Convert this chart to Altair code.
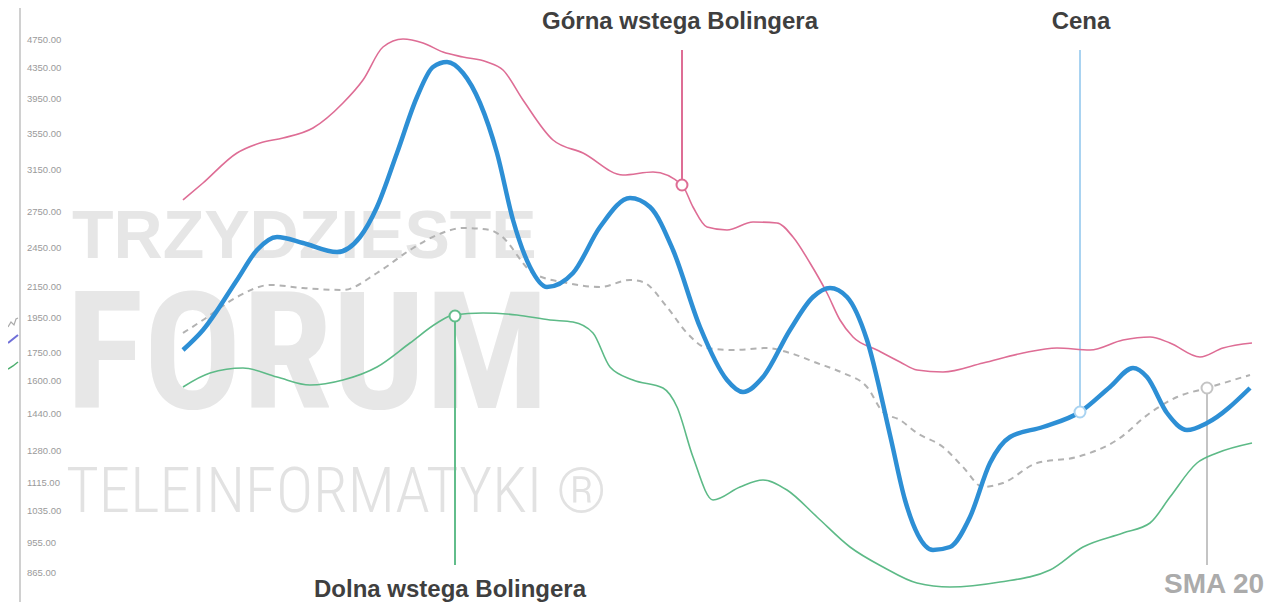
import altair as alt
import pandas as pd

# ---------------- data (t = time position, v = price level, arbitrary units) -------------
upper_t = [183, 203, 237, 260, 283, 313, 343, 363, 383, 403, 423, 443, 463, 487, 503, 523, 553, 583, 623, 653,
           682, 693, 707, 727, 753, 777, 793, 810, 827, 840, 853, 877, 900, 917, 943, 983, 1023, 1057, 1090,
           1123, 1150, 1170, 1200, 1223, 1252]
upper_v = [402, 419, 449, 459, 464, 474, 499, 522, 555, 563, 559, 550, 545, 540, 532, 502, 462, 449, 427, 430,
           417, 395, 375, 372, 380, 379, 365, 339, 309, 282, 265, 252, 240, 232, 230, 239, 249, 254, 252,
           262, 265, 259, 245, 254, 259]

price_t = [183, 203, 237, 257, 277, 303, 337, 360, 377, 397, 417, 433, 447, 463, 480, 497, 513, 530, 547, 573,
           600, 630, 650, 673, 700, 727, 743, 763, 790, 813, 830, 847, 867, 890, 905, 918, 933, 950, 970, 990,
           1010, 1043, 1080, 1110, 1133, 1147, 1167, 1187, 1207, 1250]
price_v = [252, 272, 322, 352, 365, 359, 350, 365, 395, 449, 505, 535, 540, 529, 499, 449, 382, 335, 315, 329,
           375, 404, 395, 352, 275, 222, 210, 225, 272, 305, 314, 305, 262, 167, 102, 67, 52, 55, 85, 139,
           165, 175, 190, 215, 234, 225, 189, 172, 179, 214]

sma_t = [183, 203, 237, 270, 303, 343, 377, 410, 437, 463, 490, 500, 533, 567, 600, 630, 643, 667, 687, 707,
         733, 767, 790, 817, 843, 867, 883, 900, 917, 943, 963, 983, 1003, 1037, 1077, 1117, 1150, 1177, 1207, 1250]
sma_v = [269, 282, 305, 317, 314, 312, 329, 352, 367, 374, 372, 367, 329, 319, 315, 322, 320, 295, 269, 254,
         252, 254, 249, 239, 229, 215, 190, 182, 169, 155, 135, 115, 119, 139, 145, 162, 189, 205, 214, 227]

lower_t = [183, 210, 243, 277, 310, 343, 377, 410, 437, 453, 483, 517, 550, 573, 593, 610, 633, 663, 677, 693,
           713, 740, 763, 787, 817, 850, 883, 917, 950, 1000, 1050, 1083, 1123, 1150, 1170, 1197, 1217, 1252]
lower_v = [215, 229, 234, 225, 217, 222, 235, 259, 279, 287, 289, 287, 282, 280, 269, 235, 222, 214, 195, 145,
           102, 115, 122, 112, 85, 55, 35, 19, 15, 20, 32, 55, 69, 79, 105, 139, 149, 159]

# fragments of a neighbouring chart visible at the left edge
edge_purple_t = [8, 13, 18]
edge_purple_v = [259, 263, 267]
edge_green_t = [8, 13, 18]
edge_green_v = [233, 236, 240]
edge_gray_t = [8, 11, 14, 16, 18]
edge_gray_v = [275, 280, 277, 283, 284]

# y axis tick labels and their levels
tick_labels = ["4750.00", "4350.00", "3950.00", "3550.00", "3150.00", "2750.00", "2450.00", "2150.00",
               "1950.00", "1750.00", "1600.00", "1440.00", "1280.00", "1115.00", "1035.00", "955.00", "865.00"]
tick_levels = [562, 534, 503, 468, 432, 390, 354, 315, 284, 249, 221, 188, 151, 119, 91, 59, 29]

# annotations
ann_names = ["Górna wstega Bolingera", "Cena", "Dolna wstega Bolingera", "SMA 20"]
ann_point_t = [682, 1080, 455, 1207]
ann_point_v = [417, 190, 286, 214]
ann_end_v = [552, 552, 37, 37]
ann_text_t = [680, 1081, 450, 1214]
ann_text_v = [580, 580, 12, 17]
ann_colors = ["#de6d95", "#a9d3f1", "#62bd8b", "#c4c4c4"]

watermark = ["TRZYDZIESTE", "FORUM", "TELEINFORMATYKI ®"]

# ---------------- chart -------------
XS = alt.Scale(domain=[8, 1268])
YS = alt.Scale(domain=[0, 594])


def X(f="t"):
    return alt.X(f"{f}:Q", scale=XS, axis=None)


def Y(f="v"):
    return alt.Y(f"{f}:Q", scale=YS, axis=None)


def line(ts, vs, color, width, dash=None, interp="monotone"):
    df = pd.DataFrame({"t": ts, "v": vs})
    kw = dict(color=color, strokeWidth=width, interpolate=interp)
    if dash:
        kw["strokeDash"] = dash
    return alt.Chart(df).mark_line(**kw).encode(x=X(), y=Y(), order="t:Q")


wm1 = alt.Chart(pd.DataFrame({"t": [72], "v": [344], "s": [watermark[0]]})).mark_text(
    align="left", baseline="alphabetic", font="Liberation Sans", fontWeight="bold", fontSize=68,
    color="#e6e6e6").encode(x=X(), y=Y(), text="s:N")
wm2 = alt.Chart(pd.DataFrame({"t": [66], "v": [194], "s": [watermark[1]]})).mark_text(
    align="left", baseline="alphabetic", font="Roboto Condensed, Liberation Sans", fontWeight="bold",
    fontSize=163, color="#e7e7e7").encode(x=X(), y=Y(), text="s:N")
wm3 = alt.Chart(pd.DataFrame({"t": [66], "v": [90], "s": [watermark[2]]})).mark_text(
    align="left", baseline="alphabetic", font="Roboto Condensed, Liberation Sans", fontWeight=300,
    fontSize=63, color="#e2e2e2").encode(x=X(), y=Y(), text="s:N")

axis_line = alt.Chart(pd.DataFrame({"t": [20], "v": [0], "v2": [594]})).mark_rule(
    color="#d0d0d0", strokeWidth=2).encode(x=X(), y=Y(), y2="v2:Q")
ticks = alt.Chart(pd.DataFrame({"t": [27] * len(tick_labels), "v": tick_levels, "s": tick_labels})).mark_text(
    align="left", baseline="middle", font="Liberation Sans", fontSize=9.5, color="#9a9a9a").encode(
    x=X(), y=Y(), text="s:N")

edges = [
    line(edge_gray_t, edge_gray_v, "#aaaaaa", 1.2, interp="linear"),
    line(edge_purple_t, edge_purple_v, "#6f6fd8", 2, interp="linear"),
    line(edge_green_t, edge_green_v, "#4cae6e", 1.5, interp="linear"),
]

curves = [
    line(upper_t, upper_v, "#de6d95", 1.6),
    line(lower_t, lower_v, "#5dba87", 1.6),
    line(sma_t, sma_v, "#b2b2b2", 2, dash=[6, 5]),
    line(price_t, price_v, "#2d8fd5", 4.5),
]

ann_df = pd.DataFrame({"name": ann_names, "t": ann_point_t, "v": ann_point_v, "v2": ann_end_v,
                       "tt": ann_text_t, "tv": ann_text_v, "col": ann_colors})
ann_color = alt.Color("col:N", scale=None, legend=None)
ann_rules = alt.Chart(ann_df).mark_rule(strokeWidth=2).encode(x=X(), y=Y(), y2="v2:Q", color=ann_color)
ann_pts = alt.Chart(ann_df).mark_point(shape="circle", filled=False, fill="white", fillOpacity=1,
                                       size=120, strokeWidth=2, opacity=1).encode(
    x=X(), y=Y(), stroke=alt.Stroke("col:N", scale=None, legend=None))

label_main = alt.Chart(ann_df[ann_df["name"] != "SMA 20"]).mark_text(
    align="center", baseline="middle", font="Liberation Sans", fontWeight="bold", fontSize=24,
    color="#3f3f3f").encode(x=X("tt"), y=Y("tv"), text="name:N")
label_sma = alt.Chart(ann_df[ann_df["name"] == "SMA 20"]).mark_text(
    align="center", baseline="middle", font="Liberation Sans", fontWeight="bold", fontSize=28,
    color="#ababab").encode(x=X("tt"), y=Y("tv"), text="name:N")

chart = alt.layer(
    wm1, wm2, wm3, axis_line, ticks, *edges, ann_rules, *curves, ann_pts, label_main, label_sma
).properties(
    width=1260, height=594,
    autosize=alt.AutoSizeParams(type="none"),
    padding={"left": 0, "top": 0, "right": 0, "bottom": 0},
    background="white",
).configure_view(stroke=None)

chart.save("out.html", embed_options={"renderer": "svg", "actions": False})
